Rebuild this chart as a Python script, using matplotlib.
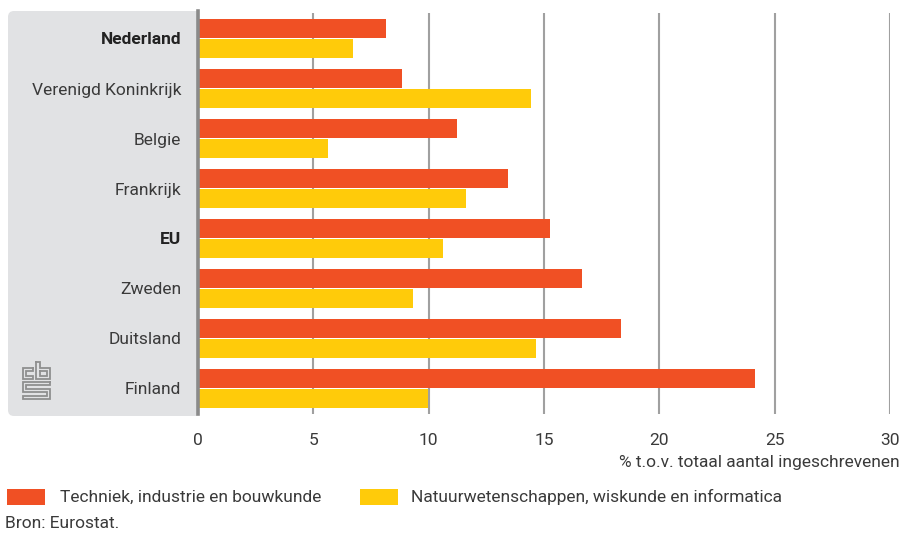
import matplotlib
matplotlib.use("Agg")
import matplotlib.pyplot as plt
from matplotlib.patches import FancyBboxPatch, Rectangle
import numpy as np

plt.rcParams['font.family'] = ['Roboto', 'DejaVu Sans']

categories = ["Nederland", "Verenigd Koninkrijk", "Belgie", "Frankrijk", "EU",
              "Zweden", "Duitsland", "Finland"]
bold_cats = ["Nederland", "EU"]
techniek = [8.15, 8.85, 11.25, 13.45, 15.25, 16.65, 18.35, 24.15]
natuur = [6.7, 14.45, 5.65, 11.6, 10.6, 9.3, 14.65, 9.95]
series_names = ["Techniek, industrie en bouwkunde",
                "Natuurwetenschappen, wiskunde en informatica"]
xticks = [0, 5, 10, 15, 20, 25, 30]
xlabel = "% t.o.v. totaal aantal ingeschrevenen"
source = "Bron: Eurostat."

RED = '#f05024'
YEL = '#ffcb0a'
TXT = '#3a3a3a'
GRID = '#a0a0a0'
PANEL = '#e1e2e4'

W, H = 903, 533
fig = plt.figure(figsize=(W / 100, H / 100), dpi=100)

def fx(x):
    return x / W

def fy(y):
    return 1 - y / H

# background overlay axes in pixel coords
bg = fig.add_axes([0, 0, 1, 1], zorder=0)
bg.set_xlim(0, W)
bg.set_ylim(H, 0)
bg.axis('off')

panel = FancyBboxPatch((8 + 6, 11 + 6), 188 - 12, 405 - 12,
                       boxstyle="round,pad=6", fc=PANEL, ec='none')
bg.add_patch(panel)
bg.add_patch(Rectangle((180, 11), 17, 405, fc=PANEL, ec='none'))

# CBS logo (approximation)
lc = '#8f8f8f'
lw = 1.3
logo_paths = [
    [(33, 367.5), (23, 367.5), (23, 378.5), (33, 378.5), (33, 375.5), (26, 375.5), (26, 370.5), (33, 370.5), (33, 367.5)],
    [(36, 361.5), (40, 361.5), (40, 367.5), (50, 367.5), (50, 378.5), (36, 378.5), (36, 361.5)],
    [(40, 370.5), (47, 370.5), (47, 375.5), (40, 375.5), (40, 370.5)],
    [(50, 381.5), (23, 381.5), (23, 391.5), (47, 391.5), (47, 395.5), (23, 395.5), (23, 399), (50, 399),
     (50, 388.5), (26, 388.5), (26, 384.5), (50, 384.5), (50, 381.5)],
]
for p in logo_paths:
    xs, ys = zip(*p)
    bg.plot(xs, ys, color=lc, lw=lw, solid_joinstyle='miter')

# main axes
ax = fig.add_axes([fx(198), fy(414), fx(890) - fx(198), fy(13) - fy(414)], zorder=1)
ax.patch.set_alpha(0)
n = len(categories)
y = np.arange(n)
bh = 0.38
ax.barh(y - 0.2, techniek, height=bh, color=RED, zorder=3)
ax.barh(y + 0.2, natuur, height=bh, color=YEL, zorder=3)
ax.set_xlim(0, 30)
ax.set_ylim(n - 1 + 0.51, -0.51)
for t in xticks[1:]:
    ax.axvline(t, color=GRID, lw=1.5, zorder=1)
ax.axvline(0, color='#8a8a8a', lw=2.6, zorder=4, ymin=-0.0, ymax=1.005, clip_on=False)
for s in ax.spines.values():
    s.set_visible(False)
ax.set_xticks(xticks)
ax.set_xticklabels([str(t) for t in xticks])
ax.tick_params(axis='x', length=0, pad=14, labelsize=12.5, labelcolor=TXT)
ax.set_yticks(y)
ax.set_yticklabels(categories)
ax.tick_params(axis='y', length=0, pad=12, labelsize=12.5, labelcolor=TXT)
for lab in ax.get_yticklabels():
    if lab.get_text() in bold_cats:
        lab.set_fontweight('bold')
        lab.set_color('#222222')

# axis label
fig.text(fx(900), fy(463), xlabel, ha='right', va='center', fontsize=12.5, color=TXT)

# legend
bg.add_patch(Rectangle((7, 489), 38, 16, fc=RED, ec='none'))
fig.text(fx(60), fy(497), series_names[0], ha='left', va='center', fontsize=12.5, color=TXT)
bg.add_patch(Rectangle((360, 489), 38, 16, fc=YEL, ec='none'))
fig.text(fx(411), fy(497), series_names[1], ha='left', va='center', fontsize=12.5, color=TXT)

fig.text(fx(5), fy(523), source, ha='left', va='center', fontsize=12.5, color=TXT)

fig.savefig("out.png", dpi=100)
